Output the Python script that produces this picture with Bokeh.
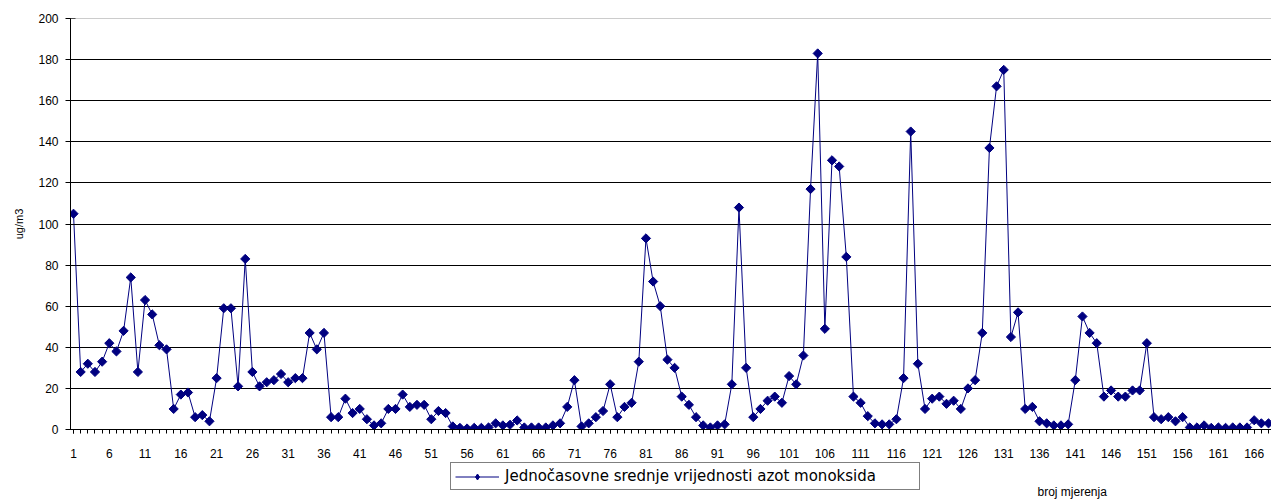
import numpy as np
from bokeh.plotting import figure
from bokeh.layouts import column
from bokeh.models import Range1d, FixedTicker, Legend, LegendItem, Label, Span
from bokeh.embed import file_html
from bokeh.resources import INLINE

# ---- data ----
values = [
    105, 28, 32, 28, 33, 42, 38, 48, 74, 28,
    63, 56, 41, 39, 10, 17, 18, 6, 7, 4,
    25, 59, 59, 21, 83, 28, 21, 23, 24, 27,
    23, 25, 25, 47, 39, 47, 6, 6, 15, 8,
    10, 5, 2, 3, 10, 10, 17, 11, 12, 12,
    5, 9, 8, 1.5, 0.8, 0.5, 0.8, 0.8, 1, 3,
    2, 2.3, 4.4, 1, 1, 1, 1, 2, 3, 11,
    24, 1.5, 3, 6, 9, 22, 6, 11, 13, 33,
    93, 72, 60, 34, 30, 16, 12, 6, 2, 1,
    2, 2.5, 22, 108, 30, 6, 10, 14, 16, 13,
    26, 22, 36, 117, 183, 49, 131, 128, 84, 16,
    13, 6.5, 3, 2.5, 2.5, 5, 25, 145, 32, 10,
    15, 16, 12.5, 14, 10, 20, 24, 47, 137, 167,
    175, 45, 57, 10, 11, 4, 3, 2, 2, 2.5,
    24, 55, 47, 42, 16, 19, 16, 16, 19, 19,
    42, 6, 5, 6, 4, 6, 1, 1, 2, 0.8,
    1, 0.8, 1, 1, 1, 4.5, 3, 3,
]
measurements = list(range(1, len(values) + 1))
x_tick_values = list(range(1, 167, 5))
y_tick_values = list(range(0, 201, 20))
series_name = "Jednočasovne srednje vrijednosti azot monoksida"
x_title = "broj mjerenja"
y_title = "ug/m3"

FONT = "Liberation Sans"
NAVY = "#000080"

p = figure(width=1271, height=462, output_backend="svg", toolbar_location=None,
           x_range=Range1d(0.58, 168.42), y_range=Range1d(0, 200),
           min_border_left=70, min_border_right=0, min_border_top=18,
           min_border_bottom=33, background_fill_color="white",
           border_fill_color="white")
p.outline_line_color = None

# grid
p.xgrid.visible = False
p.ygrid.ticker = FixedTicker(ticks=y_tick_values[:-1])
p.ygrid.grid_line_color = "black"
p.ygrid.grid_line_width = 1
p.add_layout(Span(location=200, dimension="width", line_color="#9a9a9a", line_width=1))

# y axis
p.yaxis.ticker = FixedTicker(ticks=y_tick_values)
p.yaxis.axis_line_color = "black"
p.yaxis.major_tick_in = 5
p.yaxis.major_tick_out = 5
p.yaxis.minor_tick_line_color = None
p.yaxis.major_label_text_font = FONT
p.yaxis.major_label_text_font_size = "12px"
p.yaxis.major_label_text_color = "black"
p.yaxis.major_label_standoff = 7
p.yaxis.axis_label = y_title
p.yaxis.axis_label_text_font = FONT
p.yaxis.axis_label_text_font_size = "11px"
p.yaxis.axis_label_text_font_style = "normal"
p.yaxis.axis_label_text_color = "black"
p.yaxis.axis_label_standoff = 10

# x axis
p.xaxis.ticker = FixedTicker(ticks=x_tick_values, minor_ticks=measurements)
p.xaxis.axis_line_color = "black"
p.xaxis.major_tick_in = 0
p.xaxis.major_tick_out = 4
p.xaxis.minor_tick_in = 0
p.xaxis.minor_tick_out = 4
p.xaxis.minor_tick_line_color = "black"
p.xaxis.major_label_text_font = FONT
p.xaxis.major_label_text_font_size = "12px"
p.xaxis.major_label_text_color = "black"
p.xaxis.major_label_standoff = 15

# series
p.line(measurements, values, line_color=NAVY, line_width=1)
p.scatter(measurements, values, marker="square", angle=np.pi / 4, size=6.5,
          fill_color=NAVY, line_color=NAVY)

# strip under the chart holding the legend and the x title
p2 = figure(width=1271, height=37, output_backend="svg", toolbar_location=None,
            x_range=Range1d(0.58, 168.42), y_range=Range1d(0, 200),
            x_axis_type=None, y_axis_type=None,
            min_border_left=70, min_border_right=0, min_border_top=0,
            min_border_bottom=0, background_fill_color="white",
            border_fill_color="white")
p2.outline_line_color = None
p2.grid.visible = False
# hidden copy of the series, only used to draw the legend sample
k_line = p2.line(measurements, values, line_color=NAVY, line_width=1, visible=False)
k_pts = p2.scatter(measurements, values, marker="diamond", size=10,
                   fill_color=NAVY, line_color=NAVY, visible=False)

legend = Legend(items=[LegendItem(label=series_name, renderers=[k_line, k_pts])],
                location=(380, 9), orientation="horizontal",
                border_line_color="black", border_line_width=1,
                background_fill_color="white", background_fill_alpha=1,
                inactive_fill_alpha=0, click_policy="none",
                label_text_font="DejaVu Sans", label_text_font_size="15px",
                label_text_color="black", glyph_width=44, glyph_height=15,
                label_height=15, label_width=410, label_standoff=6,
                padding=4, margin=0, spacing=0)
p2.add_layout(legend, "center")

p2.add_layout(Label(x=967, y=8, x_units="screen", y_units="screen", text=x_title,
                    text_font=FONT, text_font_size="12px", text_color="black",
                    text_baseline="alphabetic"))

open("out.html", "w").write(file_html(column(p, p2, spacing=0), INLINE))
